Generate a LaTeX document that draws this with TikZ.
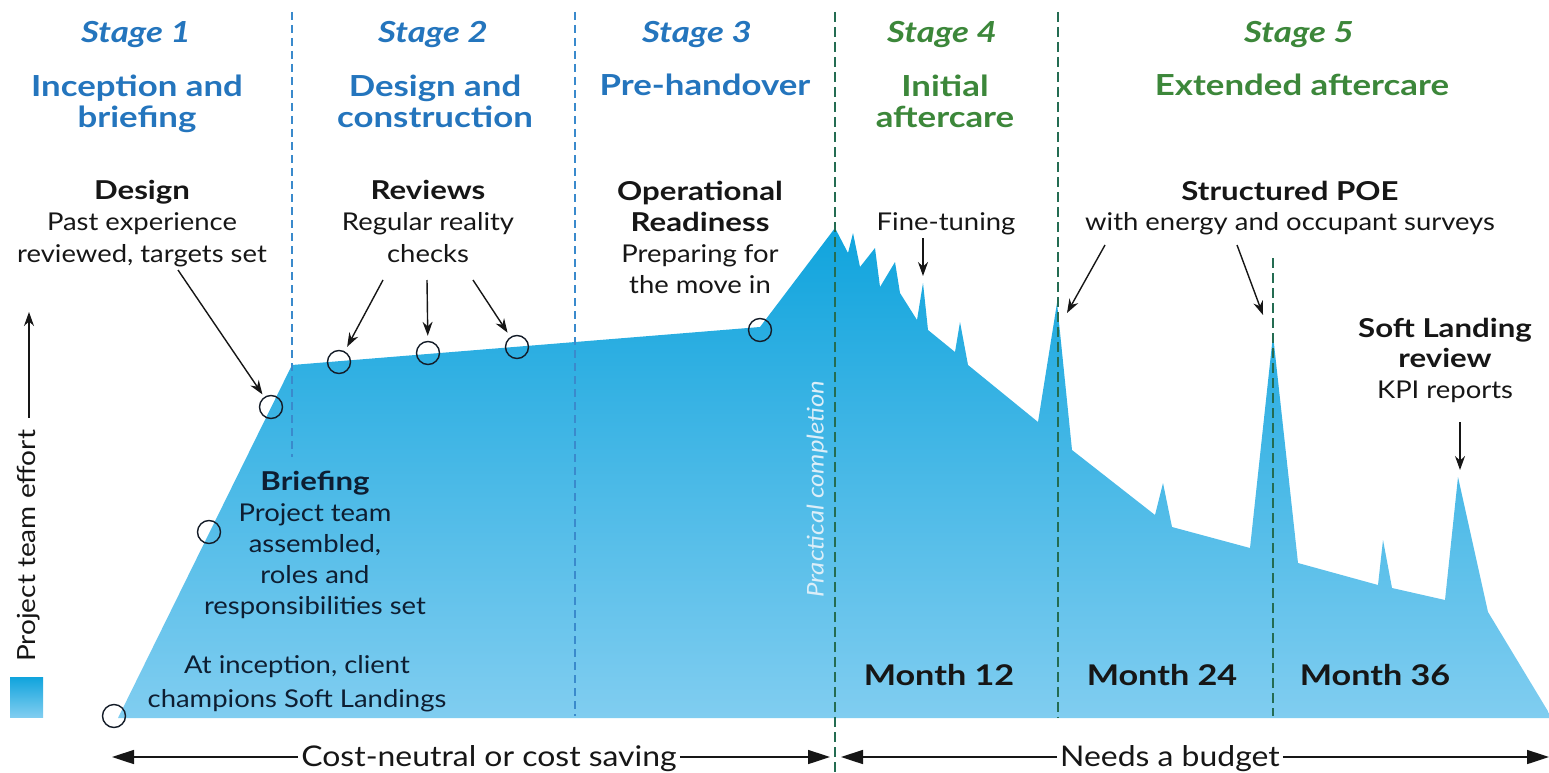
\documentclass[tikz,border=0pt]{standalone}
\usepackage{fontspec}
\setmainfont{Lato}[FakeStretch=1.12]
\newfontfamily\widefont{Lato}[FakeStretch=1.2]
\usetikzlibrary{arrows.meta}

\definecolor{stageblue}{RGB}{36,117,189}
\definecolor{stagegreen}{RGB}{60,135,58}
\definecolor{dashblue}{RGB}{58,138,204}
\definecolor{dashgreen}{RGB}{36,108,82}
\definecolor{effortTop}{RGB}{16,164,221}
\definecolor{effortBot}{RGB}{128,205,240}
\definecolor{ink}{RGB}{22,22,22}
\definecolor{navyink}{RGB}{14,30,50}
\definecolor{pcol}{RGB}{220,238,248}
\definecolor{ringc}{RGB}{20,28,40}

% centred multi-line text whose baseline is that of its first line
\newcommand{\mlines}[1]{\begin{tabular}[t]{@{}c@{}}#1\end{tabular}}
% bold lead-in lines of the notes
\newcommand{\hb}[1]{{\widefont\bfseries\fontsize{26}{31}\selectfont #1}}

\tikzset{
  stage/.style={anchor=base, inner sep=0pt, font=\widefont\fontsize{29}{31}\selectfont\bfseries\itshape},
  head/.style={anchor=base, inner sep=0pt, font=\widefont\fontsize{29}{31}\selectfont\bfseries},
  body/.style={anchor=base, inner sep=0pt, text=ink, font=\fontsize{24.5}{31.5}\selectfont},
  month/.style={anchor=base, inner sep=0pt, text=ink, font=\widefont\fontsize{28.5}{34}\selectfont\bfseries},
  span/.style={anchor=base, inner sep=3pt, text=ink, font=\fontsize{28.5}{34}\selectfont},
  ring/.style={circle, draw=ringc, line width=1.4pt, minimum size=23pt, inner sep=0pt},
  ptr/.style={draw=ink, line width=1.4pt, -{Stealth[length=14pt,width=10pt]}},
  bigptr/.style={draw=ink, line width=1.6pt, -{Triangle[length=22pt,width=14pt]}},
  effort/.style={top color=effortTop, bottom color=effortBot, draw=none},
  bluedash/.style={draw=dashblue, line width=2pt, dash pattern=on 8pt off 5pt},
  greendash/.style={draw=dashgreen, line width=2.1pt, dash pattern=on 10pt off 5pt},
}

\begin{document}
\begin{tikzpicture}[x=1pt, y=-1pt]
\useasboundingbox (0,0) rectangle (1549,773);

% project effort profile
\path[effort] (118,718) -- (292,365) -- (760,327) -- (835,228)
  -- (848,253) -- (853,233) -- (860,267) -- (875,248) -- (880,287)
  -- (895,262) -- (900,293) -- (917,320) -- (923,283) -- (928,330)
  -- (955,352) -- (960,322) -- (968,365) -- (1038,422) -- (1057,303)
  -- (1072,450) -- (1155,515) -- (1163,483) -- (1172,527) -- (1250,548)
  -- (1273,335) -- (1298,563) -- (1378,585) -- (1383,540) -- (1392,588)
  -- (1445,600) -- (1458,477) -- (1488,612) -- (1549,713) -- (1549,718)
  -- cycle;

% legend swatch
\path[effort] (10,677) rectangle (43,717);

% stage boundaries
\draw[bluedash] (292,12) -- (292,457);
\draw[bluedash] (575,12) -- (575,716);
\draw[greendash] (835,12) -- (835,773);
\draw[greendash] (1058,12) -- (1058,718);
\draw[greendash] (1273,258) -- (1273,716);

% milestones
\node[ring] (c1) at (114,716) {};
\node[ring] (c2) at (209,532) {};
\node[ring] (c3) at (271,407) {};
\node[ring] (c4) at (339,362) {};
\node[ring] (c5) at (428,353) {};
\node[ring] (c6) at (517,347) {};
\node[ring] (c7) at (760,330) {};

% stage headings
\node[stage, text=stageblue] (s1) at (136,43) {Stage 1};
\node[stage, text=stageblue] (s2) at (433,43) {Stage 2};
\node[stage, text=stageblue] (s3) at (697,43) {Stage 3};
\node[stage, text=stagegreen] (s4) at (942,43) {Stage 4};
\node[stage, text=stagegreen] (s5) at (1299,43) {Stage 5};

\node[head, text=stageblue] (h1) at (137,97) {\mlines{Inception and\\briefing}};
\node[head, text=stageblue] (h2) at (435,97) {\mlines{Design and\\construction}};
\node[head, text=stageblue] (h3) at (705,96) {Pre-handover};
\node[head, text=stagegreen] (h4) at (945,97) {\mlines{Initial\\aftercare}};
\node[head, text=stagegreen] (h5) at (1302,96) {Extended aftercare};

% activity notes
\node[body] (design) at (142,199) {\mlines{\hb{Design}\\Past experience\\reviewed, targets set}};
\node[body] (reviews) at (428,199) {\mlines{\hb{Reviews}\\Regular reality\\checks}};
\node[body, font=\fontsize{24.5}{31}\selectfont] (ready) at (700,200) {\mlines{\hb{Operational}\\\hb{Readiness}\\Preparing for\\the move in}};
\node[body] (fine) at (946,230) {Fine-tuning};
\node[body, font=\fontsize{24.5}{30}\selectfont] (poe) at (1290,200) {\mlines{\hb{Structured POE}\\with energy and occupant surveys}};
\node[body, font=\fontsize{24.5}{30.5}\selectfont] (slr) at (1445,337) {\mlines{\hb{Soft Landing}\\\hb{review}\\KPI reports}};
\node[body, text=navyink, font=\fontsize{24.5}{31}\selectfont] (brief) at (315,490) {\mlines{\hb{Briefing}\\Project team\\assembled,\\roles and\\responsibilities set}};
\node[body, text=navyink, font=\fontsize{24.5}{34}\selectfont] (incep) at (297,673) {\mlines{At inception, client\\champions Soft Landings}};

\node[month] (m12) at (939,685) {Month 12};
\node[month] (m24) at (1162,685) {Month 24};
\node[month] (m36) at (1375,685) {Month 36};

\node[rotate=90, text=pcol, inner sep=0pt, font=\fontsize{23}{26}\selectfont\itshape] (pc) at (817,489) {Practical completion};

% vertical axis
\node[rotate=90, text=ink, inner sep=0pt, font=\fontsize{25}{28}\selectfont] (effortlab) at (29,546) {Project team effort};
\coordinate (efftop) at (30,312);
\draw[ptr, shorten <=12pt] (effortlab.east) -- (effortlab.east |- efftop);

% pointers
\coordinate (d0) at (178,270);
\draw[ptr, shorten >=3pt] (d0) -- (c3);
\coordinate (r1) at (383,280);
\coordinate (r2) at (427,280);
\coordinate (r3) at (473,280);
\draw[ptr, shorten >=5pt] (r1) -- (c4);
\draw[ptr, shorten >=5pt] (r2) -- (c5);
\draw[ptr, shorten >=5pt] (r3) -- (c6);
\coordinate (f0) at (923,238);
\coordinate (f1) at (923,276);
\draw[ptr] (f0) -- (f1);
\coordinate (p0) at (1105,245);
\coordinate (p1) at (1067,313);
\coordinate (q0) at (1237,245);
\coordinate (q1) at (1263,315);
\draw[ptr] (p0) -- (p1);
\draw[ptr] (q0) -- (q1);
\coordinate (k0) at (1460,422);
\coordinate (k1) at (1460,470);
\draw[ptr] (k0) -- (k1);

% cost spans
\node[span] (cost) at (489,766) {Cost-neutral or cost saving};
\node[span] (budget) at (1170,766) {Needs a budget};
\coordinate (costL) at (112,757);
\coordinate (costR) at (830,757);
\coordinate (budL) at (841,757);
\coordinate (budR) at (1549,757);
\draw[bigptr] (cost.west |- costL) -- (costL);
\draw[bigptr] (cost.east |- costR) -- (costR);
\draw[bigptr] (budget.west |- budL) -- (budL);
\draw[bigptr] (budget.east |- budR) -- (budR);
\end{tikzpicture}
\end{document}
